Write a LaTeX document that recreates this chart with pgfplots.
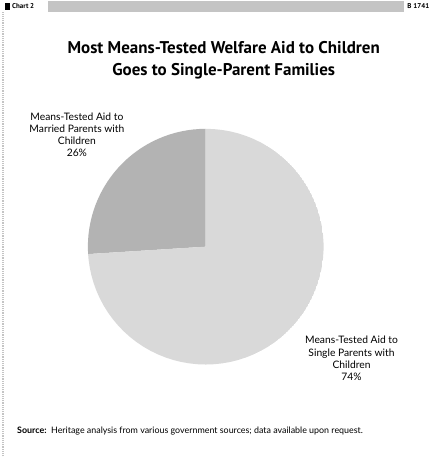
\documentclass[border=0pt]{standalone}
\usepackage{pgfplots}
\pgfplotsset{compat=1.18}
\usepgfplotslibrary{polar}
\usepackage{fontspec}
\setmainfont{Lato}
\newfontfamily\titlefont{PT Sans}
\definecolor{darkslice}{HTML}{B3B3B3}
\definecolor{lightslice}{HTML}{D9D9D9}
\definecolor{stipple}{HTML}{C4C4C4}
\begin{document}
\begin{tikzpicture}
% canvas 433 x 457 (pixel -> pt, y measured from top: tikz y = 457 - py)
\path[fill=white] (0pt,0pt) rectangle (433pt,457pt);
% header bar
\fill[stipple] (48pt,445pt) rectangle (405pt,456pt);
\fill[black] (5pt,447pt) rectangle (10pt,454pt);
\node[anchor=west, font=\titlefont\bfseries\fontsize{7}{8}\selectfont, inner sep=1pt] at (11pt,450.5pt) {Chart 2};
\node[anchor=east, font=\titlefont\bfseries\fontsize{7}{8}\selectfont, inner sep=1pt] at (431pt,450.5pt) {B 1741};
% left border
\draw[stipple, line width=1.2pt, densely dotted] (3pt,0pt) -- (3pt,445pt);

\begin{polaraxis}[
  hide axis, scale only axis,
  width=236pt, height=236pt,
  xmin=0, xmax=360, ymin=0, ymax=1,
  at={(206pt,210pt)}, anchor=center,
]
% Married parents with children: 26% (90 deg to 183.6 deg)
\addplot[draw=none, fill=darkslice] coordinates {
 (0,0) (90,1) (93,1) (96,1) (99,1) (102,1) (105,1) (108,1) (111,1) (114,1)
 (117,1) (120,1) (123,1) (126,1) (129,1) (132,1) (135,1) (138,1) (141,1)
 (144,1) (147,1) (150,1) (153,1) (156,1) (159,1) (162,1) (165,1) (168,1)
 (171,1) (174,1) (177,1) (180,1) (183,1) (183.6,1) (0,0)} \closedcycle;
% Single parents with children: 74% (183.6 deg to 450 deg)
\addplot[draw=none, fill=lightslice] coordinates {
 (0,0) (183.6,1) (186,1) (190,1) (194,1) (198,1) (202,1) (206,1) (210,1)
 (214,1) (218,1) (222,1) (226,1) (230,1) (234,1) (238,1) (242,1) (246,1)
 (250,1) (254,1) (258,1) (262,1) (266,1) (270,1) (274,1) (278,1) (282,1)
 (286,1) (290,1) (294,1) (298,1) (302,1) (306,1) (310,1) (314,1) (318,1)
 (322,1) (326,1) (330,1) (334,1) (338,1) (342,1) (346,1) (350,1) (354,1)
 (358,1) (362,1) (366,1) (370,1) (374,1) (378,1) (382,1) (386,1) (390,1)
 (394,1) (398,1) (402,1) (406,1) (410,1) (414,1) (418,1) (422,1) (426,1)
 (430,1) (434,1) (438,1) (442,1) (446,1) (450,1) (0,0)} \closedcycle;
\end{polaraxis}

% title
\node[align=center, font=\titlefont\bfseries\fontsize{17}{22}\selectfont] at (224pt,397pt)
  {Most Means-Tested Welfare Aid to Children\\Goes to Single-Parent Families};
% slice labels
\node[align=center, font=\fontsize{10.3}{12.3}\selectfont] at (77pt,322pt)
  {Means-Tested Aid to\\Married Parents with\\Children\\26\%};
\node[align=center, font=\fontsize{10.3}{12.3}\selectfont] at (352pt,98pt)
  {Means-Tested Aid to\\Single Parents with\\Children\\74\%};
% source
\node[anchor=west, font=\fontsize{8.9}{10}\selectfont, inner sep=0pt] at (17pt,25pt)
  {\textbf{Source:}\ \ Heritage analysis from various government sources; data available upon request.};
\end{tikzpicture}
\end{document}
